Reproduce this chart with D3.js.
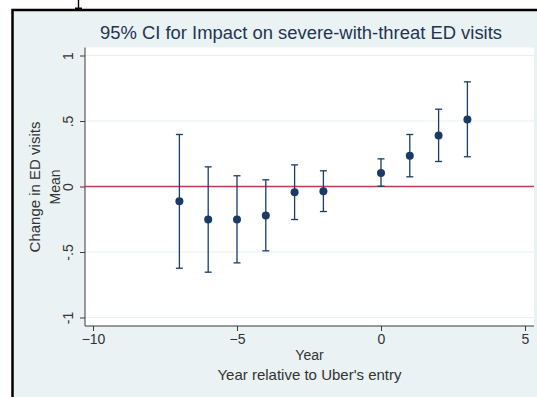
<!DOCTYPE html>
<html>
<head>
<meta charset="utf-8">
<script src="https://cdn.jsdelivr.net/npm/d3@7"></script>
<style>
body { margin: 0; background: #fff; }
svg { display: block; font-family: "Liberation Sans", Arial, sans-serif; }
</style>
</head>
<body>
<div id="chart"></div>
<script>
// Data
var years = [-7, -6, -5, -4, -3, -2, 0, 1, 2, 3];
var means = [-0.112, -0.252, -0.252, -0.221, -0.043, -0.036, 0.104, 0.234, 0.389, 0.511];
var lower = [-0.624, -0.654, -0.583, -0.491, -0.252, -0.191, 0.002, 0.074, 0.191, 0.227];
var upper = [0.397, 0.150, 0.082, 0.051, 0.165, 0.120, 0.211, 0.397, 0.590, 0.799];

var xTicks = [-10, -5, 0, 5];
var yTicks = [-1, -0.5, 0, 0.5, 1];
var yTickLabels = ["-1", "-.5", "0", ".5", "1"];

var w = 537, h = 397;
var navy = "#1a3c64";

var svg = d3.select("#chart").append("svg").attr("width", w).attr("height", h);

// outer frame (cropped screenshot of a Stata graph)
svg.append("rect").attr("x", 12.5).attr("y", 10).attr("width", w).attr("height", h)
	.attr("fill", "#eaf2f3").attr("stroke", "#000").attr("stroke-width", 2.5);

// bottom of a glyph peeking above the frame
svg.append("path").attr("d", "M78.5,0V8M75,8.2H82")
	.attr("stroke", "#000").attr("stroke-width", 1.4).attr("fill", "none");

var plot = {left: 85, top: 47.5, right: 534, bottom: 326};

svg.append("rect").attr("x", plot.left).attr("y", plot.top)
	.attr("width", plot.right - plot.left).attr("height", plot.bottom - plot.top)
	.attr("fill", "#fff");

var x = d3.scaleLinear().domain([-10, 5]).range([93, 525]);
var y = d3.scaleLinear().domain([-1, 1]).range([317.5, 55.5]);

// grid lines
svg.selectAll("line.grid").data(yTicks.filter(function(d){ return d != 0; }))
	.enter().append("line").attr("class", "grid")
	.attr("x1", plot.left).attr("x2", plot.right)
	.attr("y1", function(d){ return y(d); }).attr("y2", function(d){ return y(d); })
	.attr("stroke", "#e6eff1").attr("stroke-width", 1);

// axes
var yAxis = d3.axisLeft(y).tickValues(yTicks).tickSize(5)
	.tickFormat(function(d, i){ return yTickLabels[i]; });
var gy = svg.append("g").attr("transform", "translate(" + plot.left + ",0)").call(yAxis);
gy.select(".domain").attr("d", "M0," + plot.top + "V" + plot.bottom);
gy.selectAll(".tick text")
	.attr("x", 0).attr("y", 0).attr("text-anchor", "middle").attr("dy", "0.35em")
	.attr("transform", "translate(-17,0) rotate(-90)");

var xAxis = d3.axisBottom(x).tickValues(xTicks).tickSize(5).tickPadding(3)
	.tickFormat(d3.format("d"));
var gx = svg.append("g").attr("transform", "translate(0," + plot.bottom + ")").call(xAxis);
gx.select(".domain").attr("d", "M" + plot.left + ",0H" + plot.right);

svg.selectAll(".tick text").attr("font-size", 14).attr("fill", "#333")
	.attr("font-family", "Liberation Sans, Arial, sans-serif");
svg.selectAll(".domain, .tick line").attr("stroke", "#3a3a3a");

// reference line at zero
svg.append("line").attr("x1", plot.left).attr("x2", plot.right)
	.attr("y1", y(0)).attr("y2", y(0))
	.attr("stroke", "#c23b55").attr("stroke-width", 1.5);

// error bars
var rows = years.map(function(d, i){ return {yr: d, m: means[i], lo: lower[i], hi: upper[i]}; });

var bars = svg.append("g").attr("stroke", navy).attr("stroke-width", 1.3);
bars.selectAll("line.v").data(rows).enter().append("line")
	.attr("x1", function(d){ return x(d.yr); }).attr("x2", function(d){ return x(d.yr); })
	.attr("y1", function(d){ return y(d.lo); }).attr("y2", function(d){ return y(d.hi); });
bars.selectAll("line.hi").data(rows).enter().append("line")
	.attr("x1", function(d){ return x(d.yr) - 3.5; }).attr("x2", function(d){ return x(d.yr) + 3.5; })
	.attr("y1", function(d){ return y(d.hi); }).attr("y2", function(d){ return y(d.hi); });
bars.selectAll("line.lo").data(rows).enter().append("line")
	.attr("x1", function(d){ return x(d.yr) - 3.5; }).attr("x2", function(d){ return x(d.yr) + 3.5; })
	.attr("y1", function(d){ return y(d.lo); }).attr("y2", function(d){ return y(d.lo); });

svg.selectAll("circle.pt").data(rows).enter().append("circle")
	.attr("cx", function(d){ return x(d.yr); }).attr("cy", function(d){ return y(d.m); })
	.attr("r", 4).attr("fill", navy);

// titles
svg.append("text").attr("x", 301).attr("y", 39).attr("text-anchor", "middle")
	.attr("font-size", 17.5).attr("fill", "#1e3552")
	.attr("textLength", 402).attr("lengthAdjust", "spacingAndGlyphs")
	.text("95% CI for Impact on severe-with-threat ED visits");

svg.append("text").attr("x", 309.5).attr("y", 360).attr("text-anchor", "middle")
	.attr("font-size", 14).attr("fill", "#333").text("Year");
svg.append("text").attr("x", 309.5).attr("y", 379.5).attr("text-anchor", "middle")
	.attr("font-size", 15).attr("fill", "#333").text("Year relative to Uber's entry");

svg.append("text").attr("transform", "translate(40,187) rotate(-90)").attr("text-anchor", "middle")
	.attr("font-size", 15).attr("fill", "#333").text("Change in ED visits");
svg.append("text").attr("transform", "translate(59.5,187) rotate(-90)").attr("text-anchor", "middle")
	.attr("font-size", 14).attr("fill", "#333").text("Mean");
</script>
</body>
</html>
